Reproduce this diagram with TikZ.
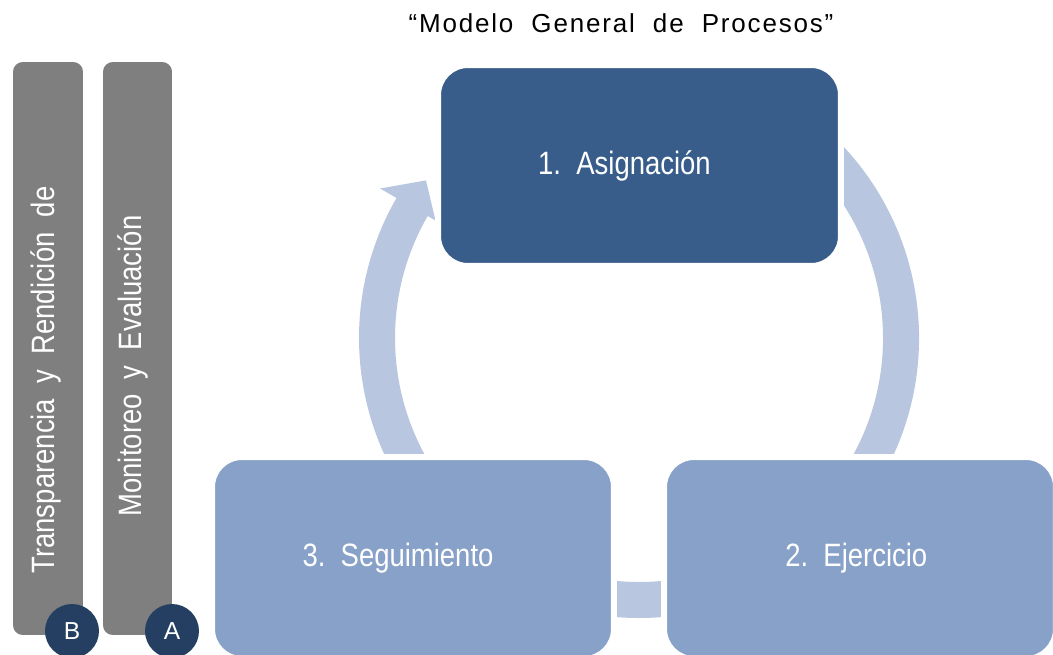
\documentclass[tikz,border=0pt]{standalone}
\usepackage{fontspec}
\setmainfont{Liberation Sans}
\newfontfamily\narrowfont{Liberation Sans}[FakeStretch=0.85]
\newfontfamily\titlefont{Liberation Sans}[LetterSpace=7]

\definecolor{MDark}{HTML}{385D8A}
\definecolor{MLight}{HTML}{88A1C8}
\definecolor{MArrow}{HTML}{B9C6E0}
\definecolor{MGray}{HTML}{7F7F7F}
\definecolor{MNavy}{HTML}{243F61}

\tikzset{
	procbox/.style={rectangle, rounded corners=17pt, draw=white, line width=3.4pt, inner sep=0pt, text=white, font=\narrowfont\fontsize{18.4}{21}\selectfont},
	sidebar/.style={rectangle, rounded corners=5.5pt, fill=MGray, inner sep=0pt, minimum height=11.46cm},
	sidetext/.style={rotate=90, text=white, inner sep=0pt, font=\narrowfont\fontsize{18.4}{22}\selectfont},
	tagdot/.style={circle, fill=MNavy, minimum size=1.08cm, inner sep=0pt, text=white, font=\fontsize{14}{16}\selectfont}
}

\begin{document}
\begin{tikzpicture}[x=0.02cm,y=0.02cm]
	\clip (0,0) rectangle (1053,654);
	\fill[white] (0,0) rectangle (1053,654);

	\node[font=\titlefont\fontsize{14.8}{17}\selectfont] (title) at (621,631) {“Modelo~~General~~de~~Procesos”};

	\node[sidebar, minimum width=1.4cm] (barB) at (48,305.5) {};
	\node[sidebar, minimum width=1.38cm] (barA) at (137.5,305.5) {};
	\node[sidetext] (textB) at (46,274) {Transparencia~~y~~Rendición~~de};
	\node[sidetext] (textA) at (133,288) {Monitoreo~~y~~Evaluación};
	\node[tagdot] (tagB) at (72,23) {B};
	\node[tagdot] (tagA) at (172,23) {A};

	\fill[MArrow, shift={(639,316)}] (220:280) arc[start angle=220, end angle=150, radius=280] -- (150:299) -- (143.5:265) -- (150:235) -- (150:244) arc[start angle=150, end angle=220, radius=244] -- cycle;
	\fill[MArrow, shift={(639,316)}] (55:280) arc[start angle=55, end angle=-35, radius=280] -- (-35:244) arc[start angle=-35, end angle=55, radius=244] -- cycle;
	\fill[MArrow, shift={(639,316)}] (-60:280) arc[start angle=-60, end angle=-120, radius=280] -- (-120:244) arc[start angle=-120, end angle=-60, radius=244] -- cycle;

	\node[procbox, fill=MDark, minimum width=8.06cm, minimum height=4.02cm] (asign) at (639.5,488.5) {1.~~Asignación\hspace*{0.6cm}};
	\node[procbox, fill=MLight, minimum width=8.04cm, minimum height=4.04cm] (segui) at (413,96) {3.~~Seguimiento\hspace*{0.6cm}};
	\node[procbox, fill=MLight, minimum width=7.84cm, minimum height=4.04cm] (ejerc) at (860,96) {2.~~Ejercicio\hspace*{0.15cm}};
\end{tikzpicture}
\end{document}
